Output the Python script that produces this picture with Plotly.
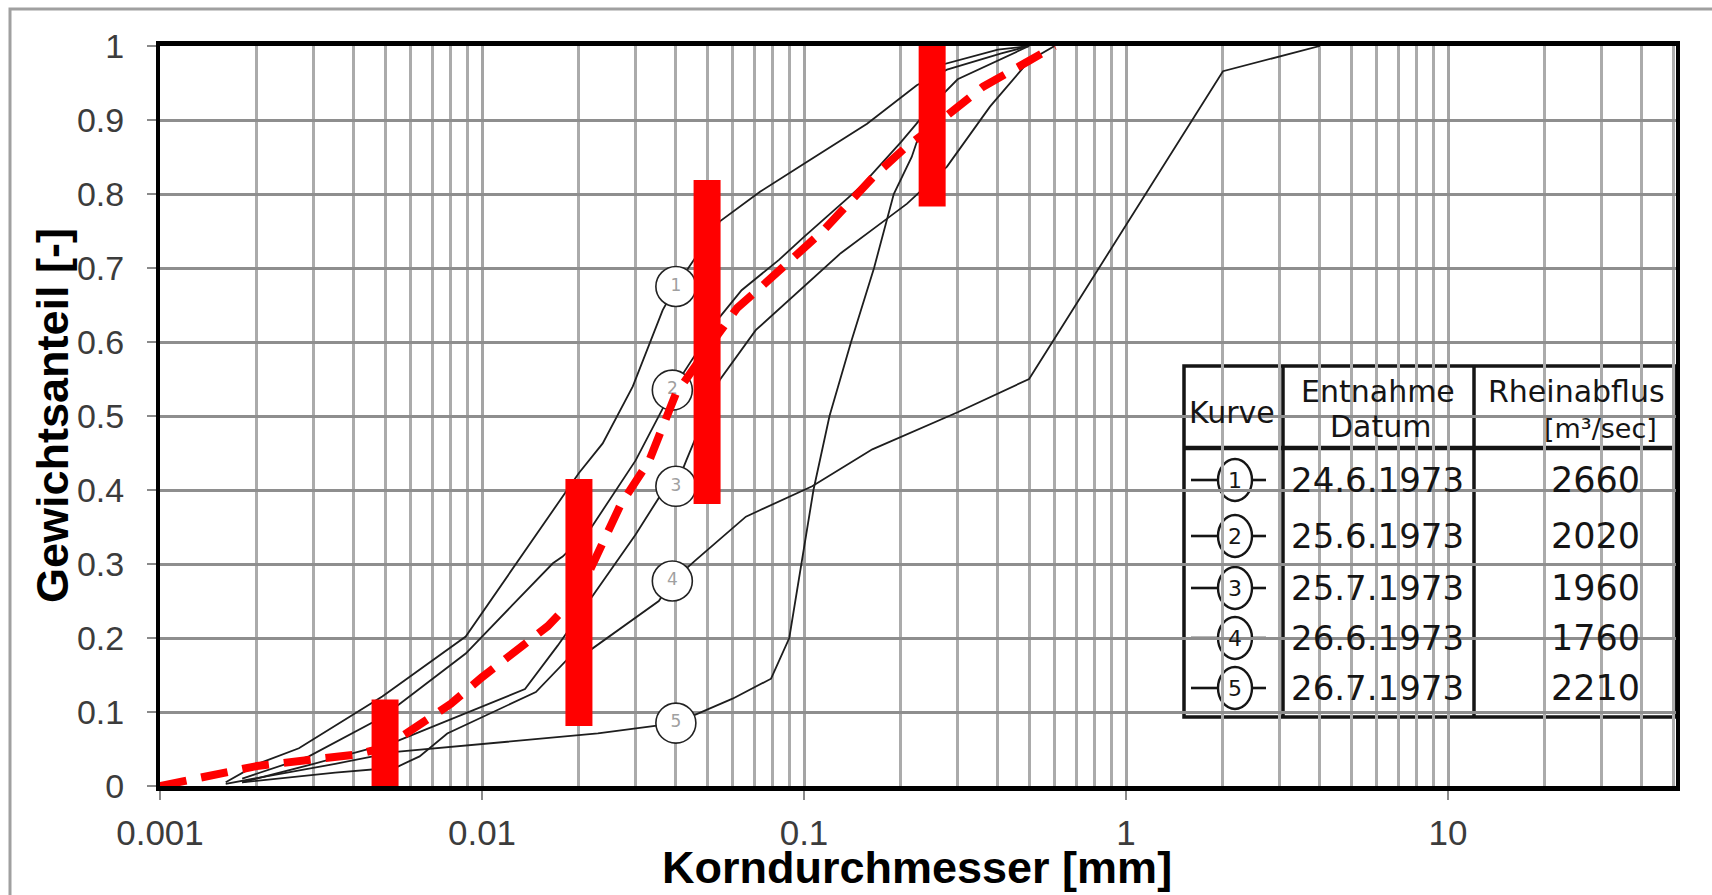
import plotly.graph_objects as go

# ---------------- data ----------------
TICK_VALS = [0.001, 0.01, 0.1, 1, 10]
TICK_TEXT = ["0.001", "0.01", "0.1", "1", "10"]

C1_X = [0.0016, 0.00204, 0.0027, 0.0049, 0.0089, 0.0128, 0.02, 0.0237, 0.0294, 0.0364, 0.04,
        0.0548, 0.073, 0.1, 0.157, 0.224, 0.278, 0.41, 0.5]
C1_Y = [0.005, 0.031, 0.051, 0.121, 0.202, 0.301, 0.423, 0.463, 0.54, 0.643, 0.675,
        0.763, 0.803, 0.841, 0.895, 0.947, 0.968, 0.99, 1.0]

C2_X = [0.0018, 0.0029, 0.0049, 0.0089, 0.0124, 0.0166, 0.0178, 0.0216, 0.03, 0.039,
        0.0548, 0.064, 0.0836, 0.1, 0.15, 0.2, 0.25, 0.3, 0.5]
C2_Y = [0.01, 0.04, 0.093, 0.179, 0.244, 0.301, 0.31, 0.346, 0.44, 0.535,
        0.634, 0.67, 0.711, 0.742, 0.81, 0.87, 0.92, 0.955, 1.0]

C3_X = [0.0018, 0.003, 0.0054, 0.0085, 0.0136, 0.0172, 0.0216, 0.03, 0.0356, 0.04, 0.0431,
        0.0548, 0.0708, 0.1, 0.13, 0.179, 0.209, 0.278, 0.378, 0.5, 0.6]
C3_Y = [0.005, 0.03, 0.06, 0.095, 0.131, 0.19, 0.251, 0.34, 0.391, 0.405, 0.44,
        0.549, 0.616, 0.675, 0.72, 0.765, 0.787, 0.837, 0.918, 0.98, 1.0]

C4_X = [0.0018, 0.0035, 0.0054, 0.0064, 0.0078, 0.0147, 0.0183, 0.0219, 0.0354, 0.039, 0.046,
        0.066, 0.106, 0.163, 0.3, 0.5, 2.0, 4.0]
C4_Y = [0.005, 0.018, 0.025, 0.04, 0.071, 0.127, 0.17, 0.185, 0.25, 0.277, 0.305,
        0.364, 0.405, 0.455, 0.505, 0.55, 0.966, 1.0]

C5_X = [0.0016, 0.0025, 0.0035, 0.0054, 0.0229, 0.04, 0.06, 0.079, 0.09, 0.107, 0.12,
        0.14, 0.165, 0.19, 0.216, 0.27, 0.4, 0.5]
C5_Y = [0.003, 0.018, 0.03, 0.046, 0.071, 0.085, 0.118, 0.145, 0.2, 0.4, 0.5,
        0.6, 0.7, 0.8, 0.85, 0.975, 0.995, 1.0]

CURVE_LABELS = ["1", "2", "3", "4", "5"]
LABEL_X = [0.04, 0.039, 0.04, 0.039, 0.04]
LABEL_Y = [0.675, 0.535, 0.405, 0.277, 0.085]

RED_X = [0.001, 0.002, 0.003, 0.004, 0.005, 0.008, 0.01, 0.016, 0.02, 0.027, 0.033, 0.04,
         0.05, 0.062, 0.073, 0.09, 0.115, 0.164, 0.208, 0.25, 0.29, 0.36, 0.5, 0.6]
RED_Y = [0.0, 0.027, 0.036, 0.042, 0.052, 0.111, 0.147, 0.216, 0.26, 0.381, 0.439, 0.53,
         0.59, 0.646, 0.673, 0.71, 0.751, 0.823, 0.864, 0.89, 0.913, 0.945, 0.98, 1.0]

BAR_X = [0.005, 0.02, 0.05, 0.25]
BAR_LO = [0.0, 0.081, 0.381, 0.783]
BAR_HI = [0.117, 0.415, 0.819, 1.0]

TABLE_KURVE = ["1", "2", "3", "4", "5"]
TABLE_DATUM = ["24.6.1973", "25.6.1973", "25.7.1973", "26.6.1973", "26.7.1973"]
TABLE_ABFLUSS = ["2660", "2020", "1960", "1760", "2210"]

# ---------------- layout helpers (pixel -> paper) ----------------
FW, FH = 1712, 895
L, R, T, B = 160, 1676, 46, 786
W, H = R - L, B - T


def xp(X):
    return (X - L) / W


def yp(Y):
    return (B - Y) / H


fig = go.Figure()

curves = [(C1_X, C1_Y), (C2_X, C2_Y), (C3_X, C3_Y), (C4_X, C4_Y), (C5_X, C5_Y)]
for cx, cy in curves:
    fig.add_trace(go.Scatter(x=cx, y=cy, mode="lines",
                             line=dict(color="#1e1e1e", width=1.8),
                             showlegend=False, hoverinfo="skip"))

# circled curve labels
fig.add_trace(go.Scatter(x=LABEL_X, y=LABEL_Y, mode="markers+text", text=CURVE_LABELS,
                         textposition="middle center",
                         textfont=dict(family="DejaVu Sans", size=17, color="#a0a0a0"),
                         marker=dict(symbol="circle", size=40, color="white",
                                     line=dict(color="#222222", width=1.6)),
                         showlegend=False, hoverinfo="skip"))

# red dashed mean curve
fig.add_trace(go.Scatter(x=RED_X, y=RED_Y, mode="lines",
                         line=dict(color="#ff0000", width=8, dash="27px,15px"),
                         showlegend=False, hoverinfo="skip"))

# red range bars
bx, by = [], []
for x, lo, hi in zip(BAR_X, BAR_LO, BAR_HI):
    bx += [x, x, None]
    by += [lo, hi, None]
fig.add_trace(go.Scatter(x=bx, y=by, mode="lines",
                         line=dict(color="#ff0000", width=27),
                         showlegend=False, hoverinfo="skip"))

# ---------------- shapes ----------------
shapes = []
# outer chart frame
shapes.append(dict(type="rect", xref="paper", yref="paper",
                   x0=xp(10), x1=xp(1740), y0=yp(9), y1=yp(930),
                   line=dict(color="#a0a0a0", width=3), layer="below"))

# darker scan lines (1-2-5 pattern)
dark_vals = []
for k in range(-3, 2):
    for m in (1, 2, 5):
        v = m * 10 ** k
        if 0.001 < v < 50:
            dark_vals.append(v)
for v in dark_vals:
    shapes.append(dict(type="line", xref="x", yref="paper", x0=v, x1=v, y0=0, y1=1,
                       line=dict(color="#3c3c3c", width=1.1), layer="between"))

# table
TX0, TX1, TY0, TY1 = 1184, 1676, 366, 717
HDR_Y = 448
COL1, COL2 = 1283, 1474
tl = dict(color="#151515", width=3.5)
shapes.append(dict(type="rect", xref="paper", yref="paper", x0=xp(TX0), x1=xp(TX1),
                   y0=yp(TY0), y1=yp(TY1), line=tl, fillcolor="white", layer="below"))
for cx in (COL1, COL2):
    shapes.append(dict(type="line", xref="paper", yref="paper", x0=xp(cx), x1=xp(cx),
                       y0=yp(TY0), y1=yp(TY1), line=tl, layer="below"))
shapes.append(dict(type="line", xref="paper", yref="paper", x0=xp(TX0), x1=xp(TX1),
                   y0=yp(HDR_Y), y1=yp(HDR_Y), line=dict(color="#151515", width=4.5), layer="below"))

ROW_Y = [480, 536, 588, 638, 688]
CIRC_X = 1235
annotations = []
for i, ry in enumerate(ROW_Y):
    shapes.append(dict(type="circle", xref="paper", yref="paper",
                       x0=xp(CIRC_X - 17), x1=xp(CIRC_X + 17),
                       y0=yp(ry - 21), y1=yp(ry + 21),
                       line=dict(color="#151515", width=2.4), layer="below"))
    shapes.append(dict(type="line", xref="paper", yref="paper", x0=xp(1191), x1=xp(1218),
                       y0=yp(ry), y1=yp(ry), line=dict(color="#151515", width=2.6), layer="below"))
    shapes.append(dict(type="line", xref="paper", yref="paper", x0=xp(1252), x1=xp(1266),
                       y0=yp(ry), y1=yp(ry), line=dict(color="#151515", width=2.6), layer="below"))
    annotations.append(dict(xref="paper", yref="paper", x=xp(CIRC_X), y=yp(ry),
                            text=TABLE_KURVE[i], showarrow=False, xanchor="center", yanchor="middle",
                            font=dict(family="DejaVu Sans", size=22, color="#151515")))
    annotations.append(dict(xref="paper", yref="paper", x=xp(1289), y=yp(ry),
                            text=TABLE_DATUM[i], showarrow=False, xanchor="left", yanchor="middle",
                            font=dict(family="DejaVu Sans", size=34, color="#151515")))
    annotations.append(dict(xref="paper", yref="paper", x=xp(1642), y=yp(ry),
                            text=TABLE_ABFLUSS[i], showarrow=False, xanchor="right", yanchor="middle",
                            font=dict(family="DejaVu Sans", size=35, color="#151515")))

hdr_font = dict(family="DejaVu Sans", size=30, color="#151515")
annotations += [
    dict(xref="paper", yref="paper", x=xp(1232), y=yp(412), text="Kurve", showarrow=False,
         xanchor="center", yanchor="middle", font=hdr_font),
    dict(xref="paper", yref="paper", x=xp(1378), y=yp(391), text="Entnahme", showarrow=False,
         xanchor="center", yanchor="middle", font=hdr_font),
    dict(xref="paper", yref="paper", x=xp(1380), y=yp(426), text="Datum", showarrow=False,
         xanchor="center", yanchor="middle", font=hdr_font),
    dict(xref="paper", yref="paper", x=xp(1486), y=yp(391), text="Rheinabflus", showarrow=False,
         xanchor="left", yanchor="middle", font=hdr_font),
    dict(xref="paper", yref="paper", x=xp(1600), y=yp(428), text="[m³/sec]", showarrow=False,
         xanchor="center", yanchor="middle", font=dict(family="DejaVu Sans", size=27, color="#151515")),
]

# axis titles
annotations += [
    dict(xref="paper", yref="paper", x=xp(917), y=yp(867), text="<b>Korndurchmesser [mm]</b>",
         showarrow=False, xanchor="center", yanchor="middle",
         font=dict(family="Liberation Sans", size=45, color="#000000")),
    dict(xref="paper", yref="paper", x=xp(52), y=yp(416), text="<b>Gewichtsanteil [-]</b>",
         showarrow=False, xanchor="center", yanchor="middle", textangle=-90,
         font=dict(family="Liberation Sans", size=45, color="#000000")),
]

minor_vals = [m * 10 ** k for k in range(-3, 2) for m in range(2, 10) if m * 10 ** k <= 50]

fig.update_layout(
    width=FW, height=FH,
    margin=dict(l=L, r=FW - R, t=T, b=FH - B, pad=0),
    paper_bgcolor="white", plot_bgcolor="white",
    shapes=shapes, annotations=annotations,
    showlegend=False,
    xaxis=dict(type="log", range=[-3, 1.708], tickvals=TICK_VALS, ticktext=TICK_TEXT,
               showgrid=True, gridcolor="#a4a4a4", gridwidth=2.5,
               minor=dict(tickvals=minor_vals, showgrid=True, gridcolor="#ababab", gridwidth=2.5,
                          ticks=""),
               showline=True, linecolor="#000000", linewidth=5, mirror=True,
               ticks="outside", ticklen=9, tickcolor="#8a8a8a", tickwidth=1.5,
               ticklabelstandoff=3,
               tickfont=dict(family="Liberation Sans", size=35, color="#3c3c3c"),
               zeroline=False),
    yaxis=dict(range=[0, 1], dtick=0.1, tick0=0,
               showgrid=True, gridcolor="#8e8e8e", gridwidth=3.2,
               showline=True, linecolor="#000000", linewidth=4, mirror=True,
               ticks="outside", ticklen=9, tickcolor="#8a8a8a", tickwidth=1.5,
               ticklabelstandoff=16,
               tickfont=dict(family="Liberation Sans", size=34, color="#3c3c3c"),
               zeroline=False),
)

fig.write_html("out.html", config={"displayModeBar": False},
               post_script="document.body.style.margin='0';")
